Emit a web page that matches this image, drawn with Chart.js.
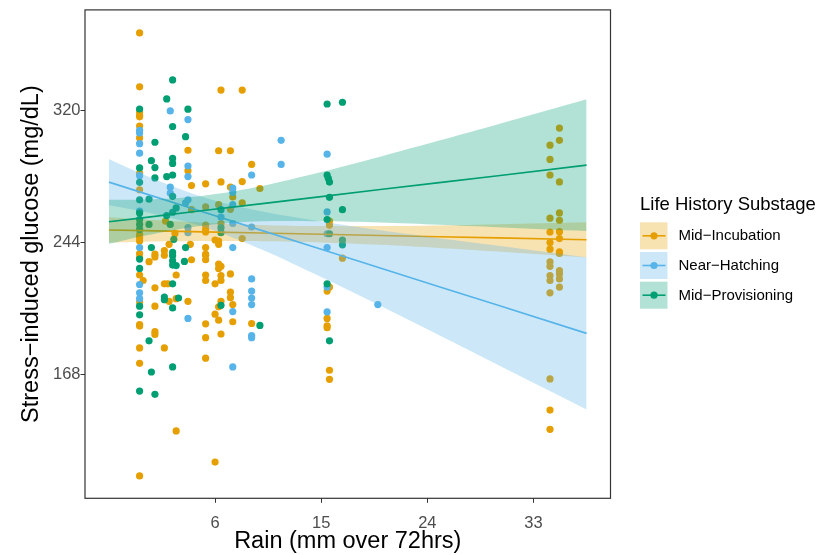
<!DOCTYPE html>
<html>
<head>
<meta charset="utf-8">
<script src="https://cdn.jsdelivr.net/npm/chart.js@4.4.0/dist/chart.umd.min.js"></script>
<style>
  html, body { margin: 0; padding: 0; background: #fff; }
  #wrap { width: 819px; height: 555px; }
</style>
</head>
<body>
<div id="wrap"><canvas id="chart" width="819" height="555"></canvas></div>
<script>
const FONT = '"Liberation Sans", Arial, Helvetica, sans-serif';

const rainTicks = [6, 15, 24, 33];
const glucoseTicks = [168, 244, 320];
const substages = ['Mid\u2212Incubation', 'Near\u2212Hatching', 'Mid\u2212Provisioning'];
const stageColors = ['#E69F00', '#56B4E9', '#009E73'];

// [rain, glucose] for each bird
const incubation = [
  [-0.4, 365.0], [-0.4, 333.9], [-0.4, 319.4], [-0.4, 317.3], [-0.4, 316.6], [-0.4, 311.3],
  [-0.4, 304.4], [-0.4, 284.0], [-0.4, 274.5], [-0.4, 248.7], [-0.4, 246.9], [-0.4, 244.9],
  [-0.4, 237.7], [-0.4, 235.4], [-0.4, 225.3], [-0.4, 209.7], [-0.4, 196.7], [-0.4, 195.8],
  [-0.4, 183.2], [-0.4, 174.3], [-0.4, 109.3], [-0.1, 222.1],
  [0.4, 233.0], [0.9, 235.7], [0.9, 237.3], [0.9, 217.9], [0.9, 207.3], [0.9, 192.6], [0.9, 191.0],
  [1.8, 256.4], [2.6, 249.3], [2.1, 243.0], [1.7, 239.3], [1.7, 236.7], [2.7, 225.3],
  [1.7, 220.2], [2.0, 220.2], [2.1, 210.1], [2.7, 211.6], [1.7, 183.2], [2.7, 135.3],
  [3.7, 297.3], [3.7, 285.5], [4.0, 276.9], [4.0, 263.0], [3.9, 243.0], [4.0, 234.1], [3.7, 210.1],
  [5.2, 277.9], [5.2, 264.6], [5.2, 254.1], [5.2, 251.6], [5.2, 250.1], [5.2, 241.1], [5.2, 237.3],
  [5.2, 236.7], [5.2, 234.1], [5.2, 225.3], [5.2, 222.1], [5.2, 197.1], [5.2, 189.1], [5.2, 177.3],
  [6.5, 332.0], [6.3, 297.0], [6.5, 279.0], [6.3, 265.9], [6.5, 255.0], [6.3, 244.9], [6.0, 245.5],
  [6.3, 243.0], [6.3, 231.6], [6.5, 230.3], [6.3, 229.1], [6.5, 225.0], [6.5, 222.1], [6.0, 220.2],
  [6.5, 210.1], [6.3, 206.9], [6.0, 202.7], [6.3, 199.2], [6.5, 191.2], [6.0, 117.3],
  [7.3, 297.0], [7.3, 276.0], [7.5, 270.3], [7.3, 263.2], [7.3, 225.9], [7.3, 215.4], [7.3, 212.2],
  [7.5, 208.2], [7.5, 198.3],
  [8.3, 332.0], [8.3, 279.2], [8.3, 266.9], [8.3, 246.3],
  [9.1, 289.1], [9.1, 197.3], [9.8, 275.2],
  [15.7, 256.4], [15.7, 254.1], [15.7, 218.3], [15.5, 216.0], [15.5, 200.2], [15.5, 196.0],
  [15.5, 194.9], [15.7, 170.3], [15.7, 165.1], [16.8, 235.0],
  [35.2, 310.1], [35.2, 303.0], [35.2, 279.0], [35.2, 261.1], [35.2, 256.9], [35.2, 250.3],
  [35.2, 246.3], [35.2, 238.7], [35.2, 237.7], [35.2, 227.8], [35.2, 225.9], [35.2, 223.0], [35.2, 218.3],
  [34.4, 300.2], [34.4, 292.0], [34.4, 283.0], [34.4, 258.1], [34.4, 250.1], [34.4, 244.0],
  [34.4, 240.2], [34.4, 232.9], [34.4, 230.3], [34.4, 225.0], [34.4, 222.1], [34.4, 215.0],
  [34.4, 165.3], [34.4, 147.3], [34.4, 136.2]
];

const hatching = [
  [-0.4, 308.8], [-0.4, 307.2], [-0.4, 301.1], [-0.4, 295.6], [-0.4, 282.6], [-0.4, 262.1],
  [-0.4, 241.1], [-0.4, 219.8], [-0.4, 215.0], [-0.4, 211.6],
  [2.2, 320.0], [2.2, 276.0], [2.2, 272.6],
  [3.7, 315.0], [3.7, 288.2], [3.7, 282.1], [3.5, 266.9], [3.7, 268.7], [3.7, 252.6], [3.7, 249.7], [3.7, 200.2],
  [6.5, 258.7],
  [7.5, 275.4], [7.5, 273.0], [7.5, 265.9], [7.5, 255.0], [7.5, 241.1], [7.5, 204.2], [7.5, 172.2],
  [9.1, 283.0], [9.1, 253.0], [9.1, 223.0], [9.1, 216.0], [9.1, 212.0], [9.1, 208.2], [9.1, 190.3], [9.1, 189.1],
  [11.6, 303.0], [11.6, 289.1],
  [15.5, 295.0], [15.5, 261.7], [15.5, 249.1], [15.5, 241.1], [15.5, 218.3], [15.5, 204.0],
  [19.8, 208.2]
];

const provisioning = [
  [-0.4, 321.1], [-0.4, 287.1], [-0.4, 278.8], [-0.4, 268.7], [-0.4, 261.1], [-0.4, 257.3],
  [-0.4, 254.5], [-0.4, 251.6], [-0.4, 234.5], [-0.4, 229.1], [-0.4, 207.3], [-0.4, 202.3], [-0.4, 158.3],
  [0.9, 301.9], [0.6, 291.3], [0.9, 287.3], [0.9, 281.3], [0.4, 269.1], [0.4, 254.5], [0.6, 241.1],
  [0.4, 187.3], [0.6, 169.3], [0.9, 156.4],
  [2.4, 337.9], [1.9, 326.9], [2.4, 311.0], [2.4, 292.6], [2.4, 289.7], [1.9, 282.1], [2.4, 283.0],
  [2.4, 270.7], [2.7, 264.0], [2.4, 261.5], [1.9, 259.6], [2.2, 254.5], [2.5, 245.9], [2.4, 238.3],
  [2.4, 236.4], [2.4, 233.5], [2.4, 231.0], [2.7, 230.7], [2.4, 220.2], [1.7, 212.6], [1.7, 211.0],
  [2.9, 212.0], [2.4, 206.3], [2.4, 172.2],
  [3.7, 321.0], [3.5, 305.1], [3.4, 233.1], [3.5, 241.1],
  [6.5, 263.0], [6.5, 252.6], [6.5, 249.7], [6.5, 207.8],
  [9.8, 196.2],
  [15.5, 324.0], [15.5, 283.0], [15.6, 281.1], [15.7, 278.9], [15.7, 270.1], [15.5, 257.3],
  [15.7, 249.1], [15.5, 220.2], [15.7, 187.3],
  [16.8, 325.0], [16.8, 263.0], [16.8, 245.5], [16.8, 242.7]
];

// fitted lines and 95% bands, sampled along rain
const fitRain = [-3, 0, 5, 10, 15, 20, 25, 30, 37.5];
const incubationFit  = [251.3, 250.9, 250.2, 249.5, 248.8, 248.1, 247.4, 246.7, 245.6];
const incubationLow  = [244.0, 244.5, 244.9, 244.8, 244.1, 242.7, 240.9, 238.8, 235.4];
const incubationHigh = [258.6, 257.3, 255.5, 254.2, 253.5, 253.5, 253.9, 254.6, 255.8];
const hatchingFit    = [278.9, 272.4, 261.7, 250.9, 240.1, 229.3, 218.5, 207.8, 191.6];
const hatchingLow    = [265.6, 261.8, 253.2, 239.9, 224.1, 207.5, 190.5, 173.4, 147.7];
const hatchingHigh   = [292.2, 283.0, 270.2, 261.9, 256.1, 251.1, 246.5, 242.2, 235.5];
const provisioningFit  = [256.0, 258.4, 262.5, 266.5, 270.5, 274.6, 278.6, 282.6, 288.7];
const provisioningLow  = [243.3, 248.0, 253.9, 256.3, 256.3, 255.6, 254.3, 252.9, 250.7];
const provisioningHigh = [268.7, 268.8, 271.1, 276.7, 284.7, 293.6, 302.9, 312.3, 326.7];

function fade(hex, a) {
  const n = parseInt(hex.slice(1), 16);
  return `rgba(${n >> 16}, ${(n >> 8) & 255}, ${n & 255}, ${a})`;
}
const toPts = arr => arr.map(p => ({ x: p[0], y: p[1] }));
const alongRain = ys => fitRain.map((x, i) => ({ x: x, y: ys[i] }));

const datasets = [];
[incubation, hatching, provisioning].forEach((arr, g) => {
  datasets.push({
    type: 'scatter',
    label: substages[g],
    data: toPts(arr),
    backgroundColor: stageColors[g],
    borderWidth: 0,
    pointRadius: 3.6,
    pointHoverRadius: 3.6,
    order: 12 - g
  });
});

const fits = [
  [incubationLow, incubationHigh, incubationFit],
  [hatchingLow, hatchingHigh, hatchingFit],
  [provisioningLow, provisioningHigh, provisioningFit]
];
fits.forEach(([lo, hi, fit], g) => {
  const ord = 6 - 2 * g;
  datasets.push({
    type: 'line', data: alongRain(lo), borderColor: 'transparent',
    pointRadius: 0, fill: false, tension: 0.3, order: ord
  });
  datasets.push({
    type: 'line', data: alongRain(hi), borderColor: 'transparent',
    backgroundColor: fade(stageColors[g], 0.3),
    pointRadius: 0, fill: '-1', tension: 0.3, order: ord
  });
  datasets.push({
    type: 'line', data: alongRain(fit), borderColor: stageColors[g], borderWidth: 1.6,
    pointRadius: 0, fill: false, order: ord - 1
  });
});

// panel border + legend drawn on top
const decorations = {
  id: 'decorations',
  afterDraw(chart) {
    const { ctx, chartArea: a } = chart;
    ctx.save();
    ctx.strokeStyle = '#333333';
    ctx.lineWidth = 1.2;
    ctx.strokeRect(a.left, a.top, a.right - a.left, a.bottom - a.top);

    ctx.fillStyle = '#000';
    ctx.textBaseline = 'middle';
    ctx.textAlign = 'left';
    ctx.font = '18.5px ' + FONT;
    ctx.fillText('Life History Substage', 640, 204.5);

    ctx.font = '15px ' + FONT;
    substages.forEach((name, i) => {
      const y0 = 222.3 + i * 29.7;
      const cy = y0 + 13.5;
      ctx.fillStyle = fade(stageColors[i], 0.3);
      ctx.fillRect(640, y0, 27.5, 27);
      ctx.strokeStyle = stageColors[i];
      ctx.lineWidth = 1.6;
      ctx.beginPath();
      ctx.moveTo(642.5, cy);
      ctx.lineTo(665.5, cy);
      ctx.stroke();
      ctx.fillStyle = stageColors[i];
      ctx.beginPath();
      ctx.arc(654, cy, 3.6, 0, Math.PI * 2);
      ctx.fill();
      ctx.fillStyle = '#000';
      ctx.fillText(name, 678.5, cy + 0.5);
    });
    ctx.restore();
  }
};

new Chart(document.getElementById('chart'), {
  type: 'scatter',
  data: { datasets: datasets },
  options: {
    responsive: false,
    animation: false,
    devicePixelRatio: 1,
    layout: { padding: { left: 0, right: 208.5, top: 5, bottom: 0 } },
    plugins: { legend: { display: false }, tooltip: { enabled: false } },
    scales: {
      x: {
        type: 'linear',
        min: -5.03,
        max: 39.53,
        afterBuildTicks: s => { s.ticks = rainTicks.map(v => ({ value: v })); },
        afterFit: s => { s.height = 56.7; },
        border: { display: false },
        grid: { drawOnChartArea: false, drawTicks: true, tickLength: 4.5, color: '#333333' },
        ticks: { autoSkip: false, maxRotation: 0, padding: 11, color: '#4D4D4D', font: { family: FONT, size: 16.5 } },
        title: {
          display: true, text: 'Rain (mm over 72hrs)', color: '#000',
          font: { family: FONT, size: 23.5, lineHeight: 1.0 }, padding: { top: 0, bottom: 1.3 }
        }
      },
      y: {
        type: 'linear',
        min: 96.4,
        max: 378.3,
        afterBuildTicks: s => { s.ticks = glucoseTicks.map(v => ({ value: v })); },
        afterFit: s => { s.width = 85; },
        border: { display: false },
        grid: { drawOnChartArea: false, drawTicks: true, tickLength: 4.5, color: '#333333' },
        ticks: { autoSkip: false, padding: 0, color: '#4D4D4D', font: { family: FONT, size: 16.5 } },
        title: {
          display: true, text: 'Stress\u2212induced glucose (mg/dL)', color: '#000',
          font: { family: FONT, size: 23.5, lineHeight: 1.2 }, padding: { top: 17.5, bottom: 0 }
        }
      }
    }
  },
  plugins: [decorations]
});
</script>
</body>
</html>
